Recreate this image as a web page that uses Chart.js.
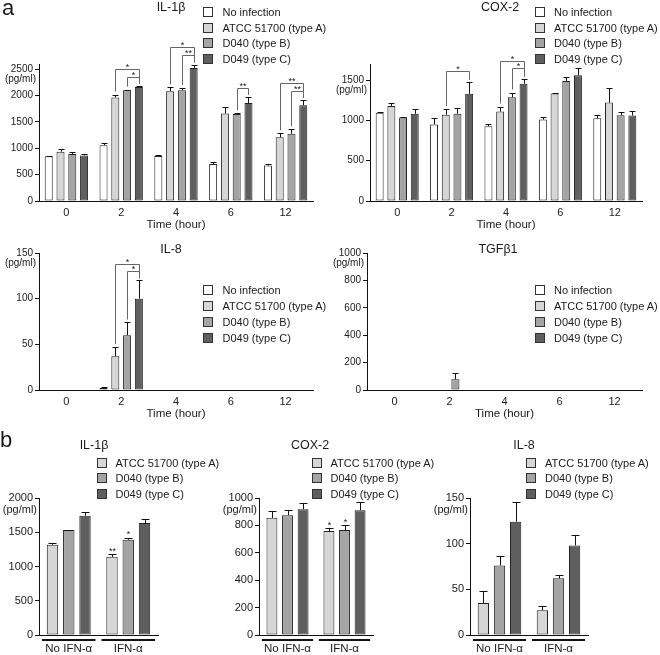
<!DOCTYPE html>
<html>
<head>
<meta charset="utf-8">
<script src="https://cdn.jsdelivr.net/npm/chart.js@4.4.1/dist/chart.umd.min.js"></script>
<style>
  body { margin: 0; background: #fff; font-family: 'Liberation Sans', Arial, sans-serif; color: #1a1a1a; }
  #page { position: relative; width: 660px; height: 655px; overflow: hidden; }
  #page canvas { position: absolute; left: 0; top: 0; }
  .txt { position: absolute; white-space: nowrap; line-height: 1; }
  .title { font-size: 12.5px; transform: translate(-50%, -50%); }
  .panel { font-size: 22px; }
  .legend { position: absolute; font-size: 11px; white-space: nowrap; }
  .legend .row { display: flex; align-items: center; }
  .legend .box { box-sizing: border-box; border: 1.3px solid #333; flex: none; }
</style>
</head>
<body>
<div id="page">
  <canvas id="a1" width="660" height="655"></canvas>
  <canvas id="a2" width="660" height="655"></canvas>
  <canvas id="a3" width="660" height="655"></canvas>
  <canvas id="a4" width="660" height="655"></canvas>
  <canvas id="b1" width="660" height="655"></canvas>
  <canvas id="b2" width="660" height="655"></canvas>
  <canvas id="b3" width="660" height="655"></canvas>
</div>
<script>
const timeLabels = ['0', '2', '4', '6', '12'];
const ifnLabels = ['No IFN-α', 'IFN-α'];
const seriesA = ['No infection', 'ATCC 51700 (type A)', 'D040 (type B)', 'D049 (type C)'];
const seriesB = ['ATCC 51700 (type A)', 'D040 (type B)', 'D049 (type C)'];
const fillsA = ['#ffffff', '#d6d6d6', '#a4a4a4', '#5f5f5f'];
const fillsB = ['#d6d6d6', '#a4a4a4', '#5f5f5f'];

// panel a: one row per series (seriesA order), one column per time point
const aIl1bMean = [
  [850, 1060, 855, 700, 675],
  [935, 1965, 2085, 1660, 1210],
  [890, 2100, 2100, 1650, 1275],
  [865, 2165, 2525, 1860, 1815]
];
const aIl1bErr = [
  [10, 45, 10, 40, 30],
  [50, 55, 70, 115, 75],
  [40, 15, 45, 20, 90],
  [30, 20, 65, 115, 105]
];
const aCox2Mean = [
  [1095, 950, 928, 1010, 1027],
  [1180, 1070, 1110, 1335, 1222],
  [1035, 1082, 1288, 1490, 1065],
  [1082, 1330, 1455, 1560, 1060]
];
const aCox2Err = [
  [8, 78, 33, 29, 46],
  [33, 70, 62, 5, 178],
  [10, 70, 58, 54, 45],
  [62, 149, 62, 87, 54]
];
const aIl8Mean = [
  [0, 2.5, 0, 0, 0],
  [0, 37, 0, 0, 0],
  [0, 60, 0, 0, 0],
  [0, 100, 0, 0, 0]
];
const aIl8Err = [
  [0, 1, 0, 0, 0],
  [0, 10, 0, 0, 0],
  [0, 14, 0, 0, 0],
  [0, 20, 0, 0, 0]
];
const aTgfMean = [
  [0, 0, 0, 0, 0],
  [0, 0, 0, 0, 0],
  [0, 78, 0, 0, 0],
  [0, 0, 0, 0, 0]
];
const aTgfErr = [
  [0, 0, 0, 0, 0],
  [0, 0, 0, 0, 0],
  [0, 46, 0, 0, 0],
  [0, 0, 0, 0, 0]
];

// panel b: one row per series (seriesB order), columns No IFN / IFN
const bIl1bMean = [[1317, 1141], [1532, 1390], [1741, 1634]];
const bIl1bErr = [[30, 35], [5, 30], [54, 59]];
const bCox2Mean = [[855, 759], [875, 766], [918, 911]];
const bCox2Err = [[53, 19], [41, 36], [48, 60]];
const bIl8Mean = [[35, 27], [76, 62], [124, 98]];
const bIl8Err = [[13, 4.4], [10, 3.3], [22, 11]];

const aIl1bTicks = [0, 500, 1000, 1500, 2000, 2500];
const aCox2Ticks = [0, 500, 1000, 1500];
const aIl8Ticks = [0, 50, 100, 150];
const aTgfTicks = [0, 200, 400, 600, 800, 1000];
const bIl1bTicks = [0, 500, 1000, 1500, 2000];
const bCox2Ticks = [0, 200, 400, 600, 800, 1000];
const bIl8Ticks = [0, 50, 100, 150];

// significance brackets: g = time index, a/b = series indexes, level = pg/ml
const aIl1bSig = [
  { g: 1, a: 1, b: 3, level: 2500, label: '*' },
  { g: 1, a: 2, b: 3, level: 2355, label: '*' },
  { g: 2, a: 1, b: 3, level: 2920, label: '*' },
  { g: 2, a: 2, b: 3, level: 2780, label: '**' },
  { g: 3, a: 2, b: 3, level: 2150, label: '**' },
  { g: 4, a: 1, b: 3, level: 2230, label: '**' },
  { g: 4, a: 2, b: 3, level: 2095, label: '**' }
];
const aCox2Sig = [
  { g: 1, a: 1, b: 3, level: 1607, label: '*' },
  { g: 2, a: 1, b: 3, level: 1735, label: '*' },
  { g: 2, a: 2, b: 3, level: 1645, label: '*' }
];
const aIl8Sig = [
  { g: 1, a: 1, b: 3, level: 138, label: '*' },
  { g: 1, a: 2, b: 3, level: 130, label: '*' }
];
const bIl1bStars = [{ g: 1, s: 0, label: '**' }, { g: 1, s: 1, label: '*' }];
const bCox2Stars = [{ g: 1, s: 0, label: '*' }, { g: 1, s: 1, label: '*' }];

Chart.defaults.font.family = "'Liberation Sans', Arial, sans-serif";
Chart.defaults.color = '#1a1a1a';

const FONT = "'Liberation Sans', Arial, sans-serif";

function marks(m) {
  return {
    id: 'marks',
    afterDatasetsDraw(chart) {
      const ctx = chart.ctx;
      const y = chart.scales.y;
      const area = chart.chartArea;
      const capTop = (s, g) => y.getPixelForValue(m.mean[s][g] + m.err[s][g]);
      const barX = (s, g) => Math.round(chart.getDatasetMeta(s).data[g].x) + 0.5;
      ctx.save();
      ctx.lineWidth = 1;
      ctx.strokeStyle = '#111';
      m.mean.forEach((row, s) => {
        row.forEach((v, g) => {
          const e = m.err[s][g];
          if (!e) return;
          const cx = barX(s, g);
          const y0 = y.getPixelForValue(v);
          const y1 = Math.round(capTop(s, g)) + 0.5;
          ctx.beginPath();
          ctx.moveTo(cx, y0);
          ctx.lineTo(cx, y1);
          ctx.moveTo(cx - m.cap, y1);
          ctx.lineTo(cx + m.cap, y1);
          ctx.stroke();
        });
      });
      ctx.fillStyle = '#222';
      ctx.textAlign = 'center';
      ctx.textBaseline = 'alphabetic';
      ctx.font = '9px ' + FONT;
      ctx.strokeStyle = '#666';
      (m.sig || []).forEach(b => {
        const xa = barX(b.a, b.g), xb = barX(b.b, b.g);
        const yl = Math.round(y.getPixelForValue(b.level)) + 0.5;
        ctx.beginPath();
        ctx.moveTo(xa, capTop(b.a, b.g) - 3);
        ctx.lineTo(xa, yl);
        ctx.lineTo(xb, yl);
        ctx.lineTo(xb, capTop(b.b, b.g) - 2);
        ctx.stroke();
        ctx.fillText(b.label, (xa + xb) / 2, yl);
      });
      (m.stars || []).forEach(st => {
        ctx.fillText(st.label, barX(st.s, st.g), capTop(st.s, st.g) - 0.5);
      });
      // unit under the top tick
      const last = m.ticks[m.ticks.length - 1];
      ctx.font = m.unitSize + 'px ' + FONT;
      ctx.textAlign = 'right';
      ctx.textBaseline = 'middle';
      ctx.fillStyle = '#1a1a1a';
      ctx.fillText('(pg/ml)', area.left - m.unitDx, y.getPixelForValue(last) + m.unitDy);
      // group underlines in panel b
      if (m.underline) {
        const x = chart.scales.x;
        const w = (area.right - area.left) / x.ticks.length * 0.9;
        ctx.lineWidth = 2;
        ctx.strokeStyle = '#111';
        x.ticks.forEach((t, i) => {
          const cx = x.getPixelForValue(i);
          ctx.beginPath();
          ctx.moveTo(cx - w / 2, area.bottom + 5);
          ctx.lineTo(cx + w / 2, area.bottom + 5);
          ctx.stroke();
        });
      }
      ctx.restore();
    }
  };
}

function makeChart(id, o) {
  const panelA = o.names.length === 4;
  const yW = 30;
  const xH = panelA ? 31 : 25;
  new Chart(document.getElementById(id), {
    type: 'bar',
    data: {
      labels: o.labels,
      datasets: o.mean.map((row, s) => ({
        label: o.names[s],
        data: row,
        backgroundColor: o.fills[s],
        borderColor: '#222',
        borderWidth: 1,
        borderSkipped: false,
        barPercentage: panelA ? 0.68 : 0.7,
        categoryPercentage: panelA ? 0.86 : 0.82
      }))
    },
    options: {
      responsive: false,
      animation: false,
      devicePixelRatio: 1,
      events: [],
      layout: {
        padding: { left: o.box[0] - yW, right: 660 - o.box[1], top: o.box[2], bottom: 655 - o.box[3] - xH }
      },
      plugins: { legend: { display: false }, tooltip: { enabled: false } },
      scales: {
        x: {
          afterFit: s => { s.height = xH; s.paddingLeft = 0; s.paddingRight = 0; },
          grid: { drawOnChartArea: false, drawTicks: false },
          border: { display: true, color: '#111', width: 1 },
          ticks: { font: { size: panelA ? 11 : 11.5 }, padding: panelA ? 5.4 : 7.4, autoSkip: false, maxRotation: 0 },
          title: panelA
            ? { display: true, text: 'Time (hour)', font: { size: 11.5 }, padding: { top: 0, bottom: 0 } }
            : { display: false }
        },
        y: {
          min: 0,
          max: o.max,
          afterBuildTicks: s => { s.ticks = o.ticks.map(v => ({ value: v })); },
          afterFit: s => { s.width = yW; s.paddingTop = 0; s.paddingBottom = 0; },
          grid: { drawOnChartArea: false, drawTicks: true, tickLength: 4, color: '#111' },
          border: { display: true, color: '#111', width: 1 },
          ticks: { font: { size: panelA ? 10 : 11 }, padding: 2, callback: v => String(v) }
        }
      }
    },
    plugins: [marks({
      mean: o.mean, err: o.err, sig: o.sig, stars: o.stars, ticks: o.ticks,
      cap: panelA ? 3 : 4,
      unitSize: panelA ? 10 : 11,
      unitDx: panelA ? 3 : 2,
      unitDy: panelA ? 10 : 12,
      underline: !panelA
    })]
  });
}

// box = [left, right, top, bottom] of the plot area in page pixels
makeChart('a1', { labels: timeLabels, names: seriesA, fills: fillsA, mean: aIl1bMean, err: aIl1bErr, sig: aIl1bSig, ticks: aIl1bTicks, max: 2600, box: [39, 313, 64, 201] });
makeChart('a2', { labels: timeLabels, names: seriesA, fills: fillsA, mean: aCox2Mean, err: aCox2Err, sig: aCox2Sig, ticks: aCox2Ticks, max: 1700, box: [370, 642, 64, 201] });
makeChart('a3', { labels: timeLabels, names: seriesA, fills: fillsA, mean: aIl8Mean, err: aIl8Err, sig: aIl8Sig, ticks: aIl8Ticks, max: 150, box: [39, 313, 253, 390] });
makeChart('a4', { labels: timeLabels, names: seriesA, fills: fillsA, mean: aTgfMean, err: aTgfErr, ticks: aTgfTicks, max: 1000, box: [367, 642, 253, 390] });
makeChart('b1', { labels: ifnLabels, names: seriesB, fills: fillsB, mean: bIl1bMean, err: bIl1bErr, stars: bIl1bStars, ticks: bIl1bTicks, max: 2000, box: [39, 158, 498, 635] });
makeChart('b2', { labels: ifnLabels, names: seriesB, fills: fillsB, mean: bCox2Mean, err: bCox2Err, stars: bCox2Stars, ticks: bCox2Ticks, max: 1000, box: [259, 373, 498, 635] });
makeChart('b3', { labels: ifnLabels, names: seriesB, fills: fillsB, mean: bIl8Mean, err: bIl8Err, ticks: bIl8Ticks, max: 150, box: [470, 588, 498, 635] });

// text overlays
const page = document.getElementById('page');

function addText(cls, text, left, top) {
  const d = document.createElement('div');
  d.className = 'txt ' + cls;
  d.textContent = text;
  d.style.left = left + 'px';
  d.style.top = top + 'px';
  page.appendChild(d);
}

function addLegend(left, top, rowH, box, gap, names, fills) {
  const d = document.createElement('div');
  d.className = 'legend';
  d.style.left = left + 'px';
  d.style.top = top + 'px';
  names.forEach((n, i) => {
    d.innerHTML += `<div class="row" style="height:${rowH}px"><span class="box" style="width:${box}px;height:${box}px;margin-right:${gap}px;background:${fills[i]}"></span>${n}</div>`;
  });
  page.appendChild(d);
}

addText('panel', 'a', 2, -3);
addText('panel', 'b', 0, 429);

addText('title', 'IL-1β', 171, 7);
addText('title', 'COX-2', 500, 7);
addText('title', 'IL-8', 171, 249);
addText('title', 'TGFβ1', 498, 249);
addText('title', 'IL-1β', 94, 445);
addText('title', 'COX-2', 310, 445);
addText('title', 'IL-8', 524, 445);

addLegend(203, 4, 15.8, 10, 9.5, seriesA, fillsA);
addLegend(535, 4, 15.8, 10, 9, seriesA, fillsA);
addLegend(203, 282.5, 15.8, 10, 9.5, seriesA, fillsA);
addLegend(535, 282.5, 15.8, 10, 9, seriesA, fillsA);
addLegend(97, 454.9, 15.65, 10, 8.5, seriesB, fillsB);
addLegend(312, 454.9, 15.65, 10, 8.5, seriesB, fillsB);
addLegend(526, 454.9, 15.65, 10, 9, seriesB, fillsB);
</script>
</body>
</html>
